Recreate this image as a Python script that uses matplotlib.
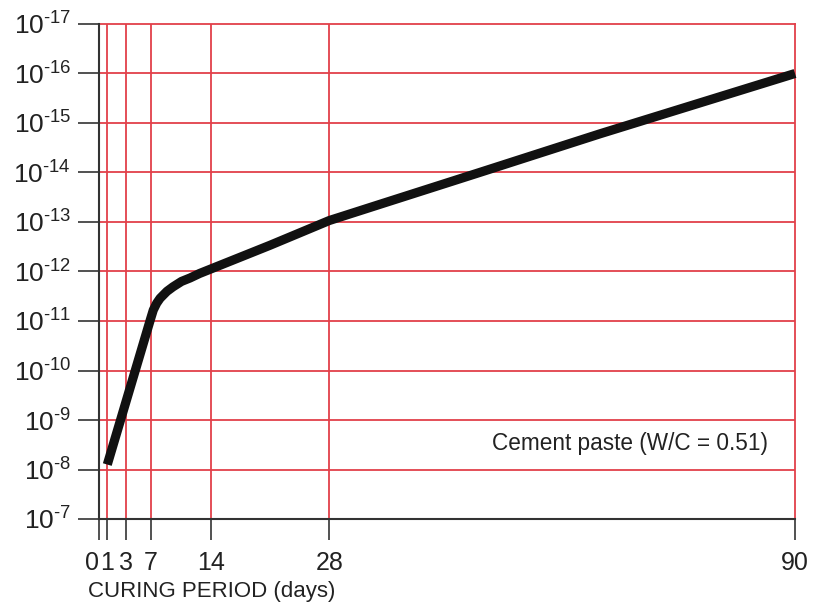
import numpy as np
import matplotlib
matplotlib.use("Agg")
import matplotlib.pyplot as plt
from matplotlib import font_manager

# ---- data ----
tick_days = [0, 1, 3, 7, 14, 28, 90]
tick_labels = ["0", "1", "3", "7", "14", "28", "90"]
decades = list(range(7, 18))  # 10^-7 ... 10^-17

curve_days = [1, 3, 5, 7, 7.3, 7.7, 8.1, 8.9, 9.6, 10.6, 11.6, 12.7, 14,
              21, 28, 35, 48, 64, 90]
curve_exp = [8.1, 9.35, 10.2, 11.05, 11.22, 11.36, 11.46, 11.6, 11.69, 11.8,
             11.87, 11.96, 12.05, 12.53, 13.03, 13.37, 14.0, 14.78, 16.0]
curve_vals = [10.0 ** (-e) for e in curve_exp]

annotation = "Cement paste (W/C = 0.51)"
xlabel = "CURING PERIOD (days)"

# ---- font ----
names = {f.name for f in font_manager.fontManager.ttflist}
NARROW = "Liberation Sans Narrow" in names
FONT = "Liberation Sans Narrow" if NARROW else "Liberation Sans"
plt.rcParams["font.family"] = [FONT, "DejaVu Sans"]
plt.rcParams["mathtext.fontset"] = "custom"
plt.rcParams["mathtext.rm"] = FONT
plt.rcParams["mathtext.it"] = FONT
plt.rcParams["mathtext.bf"] = FONT
plt.rcParams["mathtext.sf"] = FONT

RED = "#e2404a"
DARK = "#333333"
TXT = "#222222"

fig = plt.figure(figsize=(8.19, 6.08), dpi=100)
ax = fig.add_axes([99 / 819, 1 - 519 / 608, 696 / 819, (519 - 24) / 608])

# uneven spacing of the original day axis
scale_pos = [0, 8.3, 26.7, 51.7, 111.7, 230.3, 696]
fwd = lambda x: np.interp(x, tick_days, scale_pos)
inv = lambda y: np.interp(y, scale_pos, tick_days)
ax.set_xscale("function", functions=(fwd, inv))
ax.set_yscale("log")
ax.set_xlim(0, 90)
ax.set_ylim(1e-7, 1e-17)

ax.set_xticks(tick_days)
ax.set_xticklabels(tick_labels)
ax.set_yticks([10.0 ** (-d) for d in decades])
ax.set_yticklabels([r"$\mathregular{10^{\text{-}%d}}$" % d for d in decades])
ax.yaxis.set_minor_locator(matplotlib.ticker.NullLocator())
ax.xaxis.set_minor_locator(matplotlib.ticker.NullLocator())

for d in tick_days[1:-1]:
    ax.axvline(d, color=RED, lw=1.3, zorder=1)
for d in decades[1:-1]:
    ax.axhline(10.0 ** (-d), color=RED, lw=1.3, zorder=1)

ax.plot(curve_days, curve_vals, color="#111111", lw=6.6,
        solid_capstyle="butt", solid_joinstyle="round", zorder=3, clip_on=False)

for s in ["top", "right"]:
    ax.spines[s].set_color(RED)
    ax.spines[s].set_linewidth(1.3)
for s in ["left", "bottom"]:
    ax.spines[s].set_color(DARK)
    ax.spines[s].set_linewidth(1.5)
    ax.spines[s].set_zorder(4)

ax.tick_params(axis="both", which="major", direction="out", length=15,
               width=1.2, color=DARK)
ax.tick_params(axis="y", labelsize=19, pad=5, labelcolor=TXT)
ax.tick_params(axis="x", labelsize=18 if not NARROW else 20, pad=8, labelcolor=TXT)
lbls = ax.get_xticklabels()
lbls[0].set_horizontalalignment("right")

ax.text(0.961, 0.153, annotation, transform=ax.transAxes, ha="right",
        va="center", fontsize=16.3 if not NARROW else 18.5, color=TXT)
fig.text(88 / 819, 1 - 592 / 608, xlabel, ha="left", va="center",
         fontsize=16 if not NARROW else 18, color=TXT)

fig.savefig("out.png", dpi=100)
